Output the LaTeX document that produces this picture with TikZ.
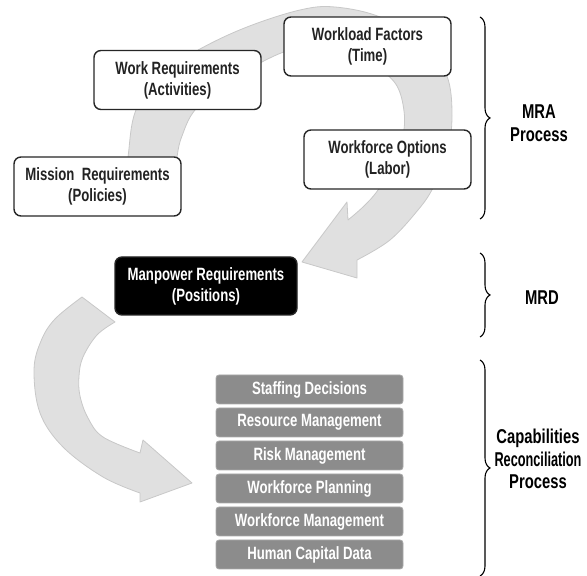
\documentclass[tikz,border=0pt]{standalone}
\usepackage{fontspec}
\setmainfont{Liberation Sans}[FakeStretch=0.74]
\usetikzlibrary{decorations.pathreplacing}

\definecolor{arrowgray}{HTML}{E0E0E0}
\definecolor{arrowedge}{HTML}{C8C8C8}
\definecolor{stackgray}{HTML}{8C8C8C}
\definecolor{boxtext}{HTML}{222222}

\begin{document}
\begin{tikzpicture}[x=1pt,y=1pt,
    bigarrow/.style={fill=arrowgray,draw=arrowedge,line width=0.8pt,line join=round},
    bracebar/.style={decorate,decoration={brace,amplitude=10pt},line width=1.1pt}]

        \useasboundingbox (0,0) rectangle (587,576);

        % curved arrows behind the boxes
        \path[bigarrow] plot[smooth,tension=0.6] coordinates {(124,381) (128,419) (136,466) (163,503) (200,527) (247,549) (300,566) (335,569) (380,559) (425,533) (447,500) (452,460) (447,420) (433,388) (418,366) (390,336) (357,316)}
          -- (357,298) -- (302,314) -- (347,374)
          -- plot[smooth,tension=0.6] coordinates {(348,356) (364,370) (378,386) (393,412) (403,441) (404,465) (397,490) (380,507) (355,522) (320,530) (290,526) (260,513) (225,492) (195,466) (182,440) (177,419) (173,381)}
          -- cycle;
        \path[bigarrow] plot[smooth,tension=0.6] coordinates {(82,279) (55,257) (41,235) (34,206) (40,163) (63,129) (103,99) (140,83)}
          -- (140,74) -- (192,93) -- (143,136)
          -- plot[smooth,tension=0.6] coordinates {(140,123) (103,139) (88,158) (80,180) (79,200) (83,219) (97,241) (115,254)}
          -- cycle;

        \begin{scope}[every node/.style={draw=black!85,line width=1.4pt,rounded corners=7pt,fill=white,
            minimum width=167pt,minimum height=59pt,inner sep=0pt,align=center,text=boxtext,
            font=\fontsize{17.8}{21}\selectfont\bfseries}]
          \node (work)     at (177.5,496)   {Work Requirements\\(Activities)};
          \node (load)     at (367.5,529.5) {Workload Factors\\(Time)};
          \node (mission)  at (97.5,389.5)  {Mission~ Requirements\\(Policies)};
          \node (options)  at (387.5,416.5) {Workforce Options\\(Labor)};
          \node[fill=black,text=white,minimum width=182pt,minimum height=58pt]
                (manpower) at (206,290)     {Manpower Requirements\\(Positions)};
        \end{scope}

        \begin{scope}[every node/.style={fill=stackgray,draw=stackgray!75,line width=0.8pt,rounded corners=3pt,
            minimum width=187pt,minimum height=29pt,inner sep=0pt,text=white,
            font=\fontsize{17.8}{21}\selectfont\bfseries}]
          \node (staffing)  at (309.5,186.5) {Staffing Decisions};
          \node (resource)  at (309.5,153.5) {Resource Management};
          \node (risk)      at (309.5,120.5) {Risk Management};
          \node (planning)  at (309.5,87.5)  {Workforce Planning};
          \node (workforce) at (309.5,54.5)  {Workforce Management};
          \node (capital)   at (309.5,21.5)  {Human Capital Data};
        \end{scope}

        % braces on the right
        \coordinate (mraTop) at (480,559);
        \coordinate (mraBot) at (480,357);
        \coordinate (mrdTop) at (480,323);
        \coordinate (mrdBot) at (480,239);
        \coordinate (crpTop) at (480,216);
        \coordinate (crpBot) at (480,0);
        \draw[bracebar] (mraTop) -- (mraBot);
        \draw[bracebar] (mrdTop) -- (mrdBot);
        \draw[bracebar] (crpTop) -- (crpBot);

        \begin{scope}[every node/.style={align=center,inner sep=0pt,text=black,
            font=\fontsize{20}{22.5}\selectfont\bfseries}]
          \node (mra)   at (539,453) {MRA\\Process};
          \node (mrd)   at (542,278) {MRD};
          \node (recon) at (538,117) {Capabilities\\\scalebox{0.86}[1]{Reconciliation}\\Process};
        \end{scope}

      \end{tikzpicture}
\end{document}
